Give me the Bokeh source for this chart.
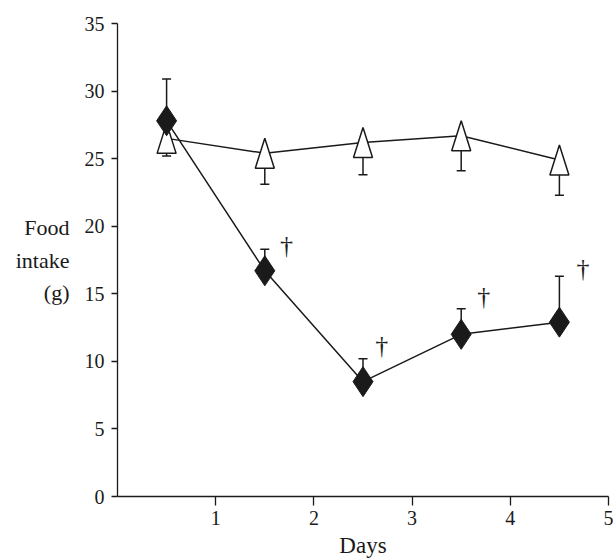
from bokeh.plotting import figure
from bokeh.models import Range1d, FixedTicker
from bokeh.embed import file_html
from bokeh.resources import INLINE
from bokeh.core.properties import value

# ---- data ----
days = [0.5, 1.5, 2.5, 3.5, 4.5]
control = [26.5, 25.4, 26.2, 26.7, 24.9]
control_err = [1.3, 2.3, 2.4, 2.6, 2.6]
treated = [27.8, 16.7, 8.5, 12.0, 12.9]
treated_err = [3.1, 1.6, 1.7, 1.9, 3.4]
dagger_x = [1.72, 2.69, 3.73, 4.74]
dagger_y = [18.6, 11.2, 14.8, 16.9]
x_ticks = [1, 2, 3, 4, 5]
y_ticks = [0, 5, 10, 15, 20, 25, 30, 35]

FONT = "serif"
INK = "#1a1a1a"

W, H = 613, 560
BL, BR, BT, BB = 117, 5, 23, 64
FW = W - BL - BR
FH = H - BT - BB

p = figure(width=W, height=H, output_backend="svg", toolbar_location=None,
           x_range=Range1d(0, 5), y_range=Range1d(0, 35),
           min_border_left=BL, min_border_right=BR, min_border_top=BT, min_border_bottom=BB)
p.outline_line_color = None
p.grid.grid_line_color = None
p.background_fill_color = "white"
p.border_fill_color = "white"

# axes
p.xaxis.ticker = FixedTicker(ticks=x_ticks)
p.yaxis.ticker = FixedTicker(ticks=y_ticks)
for ax in (p.xaxis, p.yaxis):
    ax.axis_line_color = INK
    ax.axis_line_width = 1.3
    ax.major_tick_line_color = INK
    ax.major_tick_line_width = 1.3
    ax.minor_tick_line_color = None
    ax.major_tick_in = 0
    ax.major_label_text_font = FONT
    ax.major_label_text_font_size = "20px"
    ax.major_label_text_color = INK
    ax.axis_label_text_font = FONT
    ax.axis_label_text_font_style = "normal"
    ax.axis_label_text_color = INK
p.xaxis.major_tick_out = 9
p.xaxis.major_label_standoff = 5
p.yaxis.major_tick_out = 6
p.yaxis.major_label_standoff = 7
p.yaxis.bounds = (-0.75, 35)

p.yaxis.axis_label = "Food\nintake\n(g)"
p.yaxis.axis_label_orientation = "horizontal"
p.yaxis.axis_label_text_font_size = "22px"
p.yaxis.axis_label_text_line_height = 1.3
p.yaxis.axis_label_standoff = 12

p.xaxis.axis_label = "Days"
p.xaxis.axis_label_text_font_size = "23px"
p.xaxis.axis_label_standoff = 5

# pixel -> data conversions for marker sizes
dx_per_px = 5.0 / FW
dy_per_px = 35.0 / FH

# control series (open triangles, lower error bars)
p.line(days, control, line_color=INK, line_width=1.5)
c_low = [v - e for v, e in zip(control, control_err)]
p.segment(x0=days, y0=control, x1=days, y1=c_low, line_color=INK, line_width=1.5)
p.scatter(days, c_low, marker="dash", size=9, line_color=INK, line_width=1.5)
hw, hh = 9.5 * dx_per_px, 15 * dy_per_px
tri_xs = [[x - hw, x + hw, x] for x in days]
tri_ys = [[y - hh, y - hh, y + hh] for y in control]
p.patches(tri_xs, tri_ys, fill_color="white", line_color=INK, line_width=1.5)

# treated series (filled diamonds, upper error bars)
p.line(days, treated, line_color=INK, line_width=1.5)
t_high = [v + e for v, e in zip(treated, treated_err)]
p.segment(x0=days, y0=treated, x1=days, y1=t_high, line_color=INK, line_width=1.5)
p.scatter(days, t_high, marker="dash", size=9, line_color=INK, line_width=1.5)
p.scatter(days, treated, marker="diamond", size=30, fill_color=INK, line_color=INK, line_width=1)

# significance daggers
p.text(dagger_x, dagger_y, text=["\u2020"] * len(dagger_x), text_font=value(FONT),
       text_font_size="26px", text_align="center", text_baseline="middle", text_color="#222222")

open("out.html", "w").write(file_html(p, INLINE))
